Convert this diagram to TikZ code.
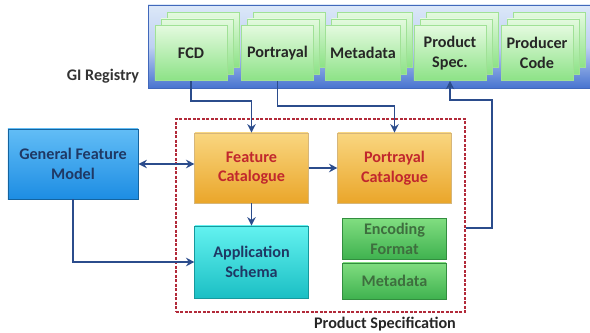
\documentclass[tikz,border=0pt]{standalone}
\usepackage{fontspec}
\setmainfont{Carlito}
\usetikzlibrary{positioning, arrows.meta, shadows}
\definecolor{arrowb}{RGB}{43,76,140}
\definecolor{navyt}{RGB}{31,56,100}
\definecolor{redt}{RGB}{193,39,45}
\definecolor{greent}{RGB}{62,110,62}
\definecolor{cardtop}{RGB}{228,250,223}
\definecolor{cardbot}{RGB}{140,226,134}
\definecolor{cardline}{RGB}{160,225,150}
\definecolor{bandtop}{RGB}{220,232,248}
\definecolor{bandmid}{RGB}{190,208,242}
\definecolor{bandbot}{RGB}{72,116,208}
\definecolor{gfmtop}{RGB}{98,189,246}
\definecolor{gfmbot}{RGB}{29,141,227}
\definecolor{orgtop}{RGB}{249,214,128}
\definecolor{orgbot}{RGB}{234,166,42}
\definecolor{cyantop}{RGB}{99,242,240}
\definecolor{cyanbot}{RGB}{27,191,196}
\definecolor{grntop}{RGB}{128,221,128}
\definecolor{grnbot}{RGB}{63,178,79}
\definecolor{psred}{RGB}{178,42,58}

\begin{document}
\begin{tikzpicture}[x=0.025cm, y=-0.025cm,
    font=\fontsize{11.5}{14}\selectfont\bfseries,
    ->/.style={-{Stealth[length=6pt, width=6pt, inset=2pt]}, line width=1.3pt, draw=arrowb},
    <->/.style={{Stealth[length=6pt, width=6pt, inset=2pt]}-{Stealth[length=6pt, width=6pt, inset=2pt]},
      line width=1.3pt, draw=arrowb},
    card/.style={rectangle, minimum width=1.8cm, minimum height=1.38cm, align=center,
      draw=cardline, top color=cardtop, bottom color=cardbot, text=black!85,
      copy shadow={shadow xshift=3mm, shadow yshift=3.3mm, top color=cardtop,
        bottom color=cardbot, draw=cardline},
      copy shadow={shadow xshift=1.5mm, shadow yshift=1.65mm, top color=cardtop,
        bottom color=cardbot, draw=cardline}},
    box/.style={rectangle, align=center, line width=0.6pt,
      drop shadow={opacity=0.25, shadow xshift=0.6pt, shadow yshift=-0.8pt}},
    catbox/.style={box, minimum width=2.83cm, minimum height=1.75cm, draw=orgbot!80!black!60,
      top color=orgtop, bottom color=orgbot, text=redt},
    grnbox/.style={box, minimum width=2.58cm, draw=grnbot!80!black, top color=grntop,
      bottom color=grnbot, text=greent}]
  \useasboundingbox (0,0) rectangle (590,333);
  \path[draw=bandbot!90!black, line width=0.4pt, top color=bandtop, bottom color=bandbot,
    middle color=bandmid] (148,5) rectangle (591,88);
  \node [text=black!80] (gireg) at (103,76) {GI Registry};
  \node [card] (fcd) at (191,53) {FCD};
  \node [card] (portr) at (277.5,53) {Portrayal};
  \node [card] (regmeta) at (363,53) {Metadata};
  \node [card] (pspec) at (450,53) {Product\\Spec.};
  \node [card] (pcode) at (537,53) {Producer\\Code};

  \node [draw=psred, dashed, dash pattern=on 2pt off 1.2pt, line width=0.9pt,
    minimum width=7.225cm, minimum height=4.825cm] (prodspec) at (320.5,215.5) {};
  \node [text=black!85, anchor=north] (pslabel) at (385,312) {Product Specification};

  \node [box, minimum width=3.25cm, minimum height=1.75cm, draw=gfmbot!70!black,
    top color=gfmtop, bottom color=gfmbot, text=navyt] (gfm) at (73,164)
    {General Feature\\Model};
  \node [catbox] (fc) at (251.5,168) {Feature\\Catalogue};
  \node [catbox] (pc) at (394.5,168) {Portrayal\\Catalogue};
  \node [box, minimum width=2.83cm, minimum height=1.8cm, draw=cyanbot!80!black,
    top color=cyantop, bottom color=cyanbot, text=navyt] (as) at (251.5,262)
    {Application\\Schema};
  \node [grnbox, minimum height=0.95cm] (encf) at (394.5,239) {Encoding\\Format};
  \node [grnbox, minimum height=0.9cm] (psmeta) at (394.5,281) {Metadata};

  \draw[->] (fcd.south) -- ++(0,20) -| (fc.north);
  \draw[->] (portr.south) -- ++(0,25) -| (pc.north);
  \draw[<->] (gfm.east) -- (gfm.east -| fc.west);
  \draw[->] (fc.east) -- (pc.west);
  \draw[->] (fc.south) -- (as.north);
  \draw[->] (gfm.south) |- (as.west);
  \draw[->] ([yshift=-3.1mm]prodspec.east) -| (492,100) -| (pspec.south);
\end{tikzpicture}
\end{document}
